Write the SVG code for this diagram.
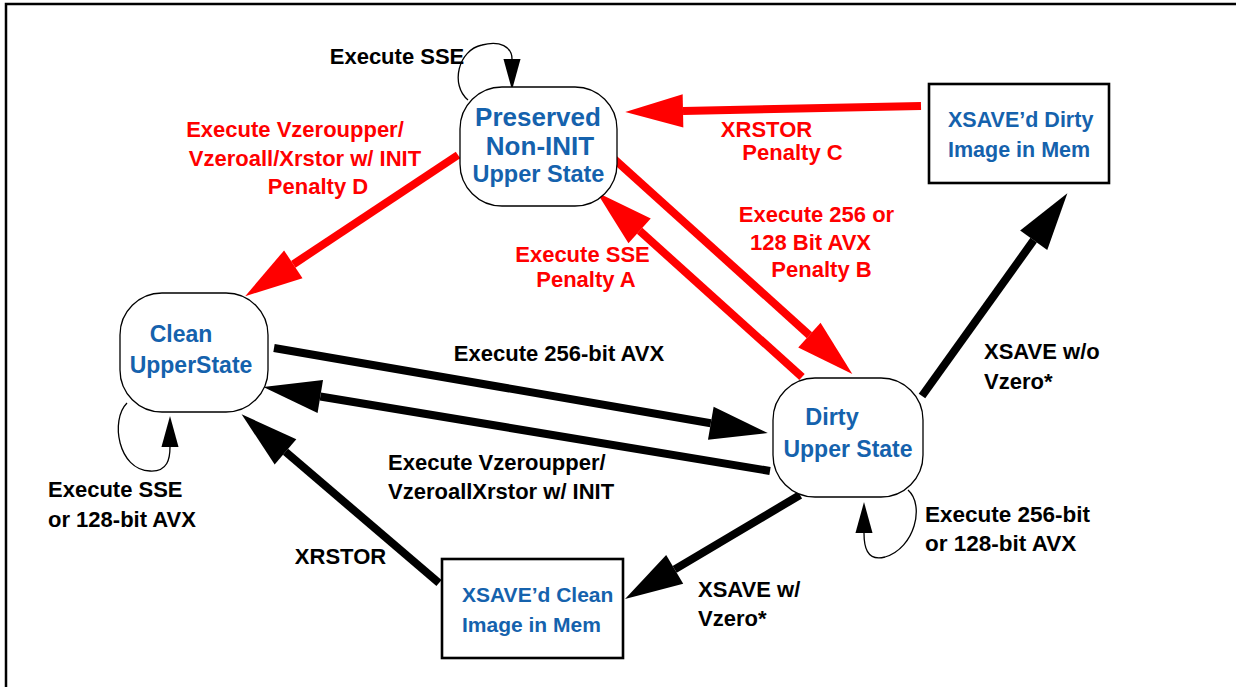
<svg xmlns="http://www.w3.org/2000/svg" width="1236" height="687" viewBox="0 0 1236 687">
<defs>
<style>
text{font-family:"Liberation Sans",Arial,sans-serif;font-weight:bold;font-size:22px}
.blk{fill:#000}
.red{fill:#ff0000}
.blu{fill:#1562ad}
.state{fill:#fff;stroke:#000;stroke-width:1.3}
.box{fill:#fff;stroke:#000;stroke-width:2.6}
.thickR{stroke:#ff0000;stroke-width:8;fill:none;marker-end:url(#headR)}
.thickK{stroke:#000;stroke-width:8;fill:none;marker-end:url(#headK)}
.loop{stroke:#000;stroke-width:1.3;fill:none;marker-end:url(#headS)}
</style>
<marker id="headR" markerUnits="userSpaceOnUse" markerWidth="60" markerHeight="40" viewBox="0 -16 54 32" refX="0" refY="0" orient="auto" overflow="visible">
<path d="M0,-15 L52,0 L0,15 z" fill="#ff0000"/>
</marker>
<marker id="headK" markerUnits="userSpaceOnUse" markerWidth="60" markerHeight="40" viewBox="0 -16 54 32" refX="0" refY="0" orient="auto" overflow="visible">
<path d="M0,-15 L52,0 L0,15 z" fill="#000"/>
</marker>
<marker id="headS" markerUnits="userSpaceOnUse" markerWidth="32" markerHeight="20" viewBox="0 -9 30 18" refX="0" refY="0" orient="auto" overflow="visible">
<path d="M0,-8 L29,0 L0,8 z" fill="#000"/>
</marker>
</defs>
<rect width="1236" height="687" fill="#fff"/>
<path d="M6,687 L6,4 L1236,4" fill="none" stroke="#000" stroke-width="2.5"/>

<g id="connectors">
<line class="thickR" x1="921" y1="106" x2="683" y2="110.9"/>
<line class="thickR" x1="458" y1="155" x2="293.3" y2="264.3"/>
<line class="thickR" x1="802" y1="377" x2="639.6" y2="230.8"/>
<line class="thickR" x1="613" y1="158" x2="809.4" y2="335.2"/>
<line class="thickK" x1="274" y1="348" x2="710.8" y2="423.2"/>
<line class="thickK" x1="770" y1="471" x2="320.3" y2="396.5"/>
<line class="thickK" x1="439" y1="583" x2="285.5" y2="451.8"/>
<line class="thickK" x1="800" y1="495" x2="674.7" y2="569.4"/>
<line class="thickK" x1="922" y1="396" x2="1033.7" y2="240.2"/>
<path class="loop" d="M468,100 C450,85 458,50 482,45 C500,40 512,47 512,59"/>
<path class="loop" d="M127,403 C110,420 118,470 150,471 C168,472 170,458 170,447"/>
<path class="loop" d="M908,490 C925,505 915,548 885,557 C866,562 864,545 864,533"/>
<text class="blk" x="397" y="64" text-anchor="middle">Execute SSE</text>
<text class="red" x="295" y="137" text-anchor="middle">Execute Vzeroupper/</text>
<text class="red" x="305" y="166" text-anchor="middle">Vzeroall/Xrstor w/ INIT</text>
<text class="red" x="318" y="194" text-anchor="middle">Penalty D</text>
<text class="red" x="766.5" y="137" text-anchor="middle">XRSTOR</text>
<text class="red" x="792.5" y="160" text-anchor="middle">Penalty C</text>
<text class="red" x="816.5" y="222" text-anchor="middle">Execute 256 or</text>
<text class="red" x="810.5" y="250" text-anchor="middle">128 Bit AVX</text>
<text class="red" x="821.5" y="277" text-anchor="middle">Penalty B</text>
<text class="red" x="582.5" y="262" text-anchor="middle">Execute SSE</text>
<text class="red" x="586" y="287" text-anchor="middle">Penalty A</text>
<text class="blk" x="559" y="361" text-anchor="middle">Execute 256-bit AVX</text>
<text class="blk" x="388" y="470">Execute Vzeroupper/</text>
<text class="blk" x="388" y="499">VzeroallXrstor w/ INIT</text>
<text class="blk" x="48" y="497">Execute SSE</text>
<text class="blk" x="48" y="527">or 128-bit AVX</text>
<text class="blk" x="340.5" y="564" text-anchor="middle">XRSTOR</text>
<text class="blk" x="698" y="597">XSAVE w/</text>
<text class="blk" x="698" y="626">Vzero*</text>
<text class="blk" x="984" y="359">XSAVE w/o</text>
<text class="blk" x="984" y="389">Vzero*</text>
<text class="blk" x="925" y="522" style="font-size:22.5px">Execute 256-bit</text>
<text class="blk" x="925" y="551" style="font-size:22.5px">or 128-bit AVX</text>
</g>

<g id="preserved">
<rect class="state" x="460" y="87" width="157" height="119" rx="42" ry="42"/>
<text class="blu" x="538" y="126" text-anchor="middle" style="font-size:26px">Preserved</text>
<text class="blu" x="540" y="155" text-anchor="middle" style="font-size:26px">Non-INIT</text>
<text class="blu" x="538.5" y="182" text-anchor="middle" style="font-size:23.5px">Upper State</text>
</g>

<g id="clean">
<rect class="state" x="120" y="293" width="148" height="119" rx="42" ry="42"/>
<text class="blu" x="181" y="342" text-anchor="middle" style="font-size:23px">Clean</text>
<text class="blu" x="191" y="373" text-anchor="middle" style="font-size:23px">UpperState</text>
</g>

<g id="dirty">
<rect class="state" x="773" y="378" width="150" height="119" rx="42" ry="42"/>
<text class="blu" x="832" y="425" text-anchor="middle" style="font-size:23.5px">Dirty</text>
<text class="blu" x="848" y="457" text-anchor="middle" style="font-size:23px">Upper State</text>
</g>

<g id="xsave-dirty">
<rect class="box" x="929" y="84" width="180" height="99"/>
<text class="blu" x="948" y="127" style="font-size:21.5px">XSAVE’d Dirty</text>
<text class="blu" x="948" y="157" style="font-size:21.5px">Image in Mem</text>
</g>

<g id="xsave-clean">
<rect class="box" x="442" y="559" width="181" height="99"/>
<text class="blu" x="462" y="602" style="font-size:21px">XSAVE’d Clean</text>
<text class="blu" x="462" y="632" style="font-size:21px">Image in Mem</text>
</g>
</svg>
